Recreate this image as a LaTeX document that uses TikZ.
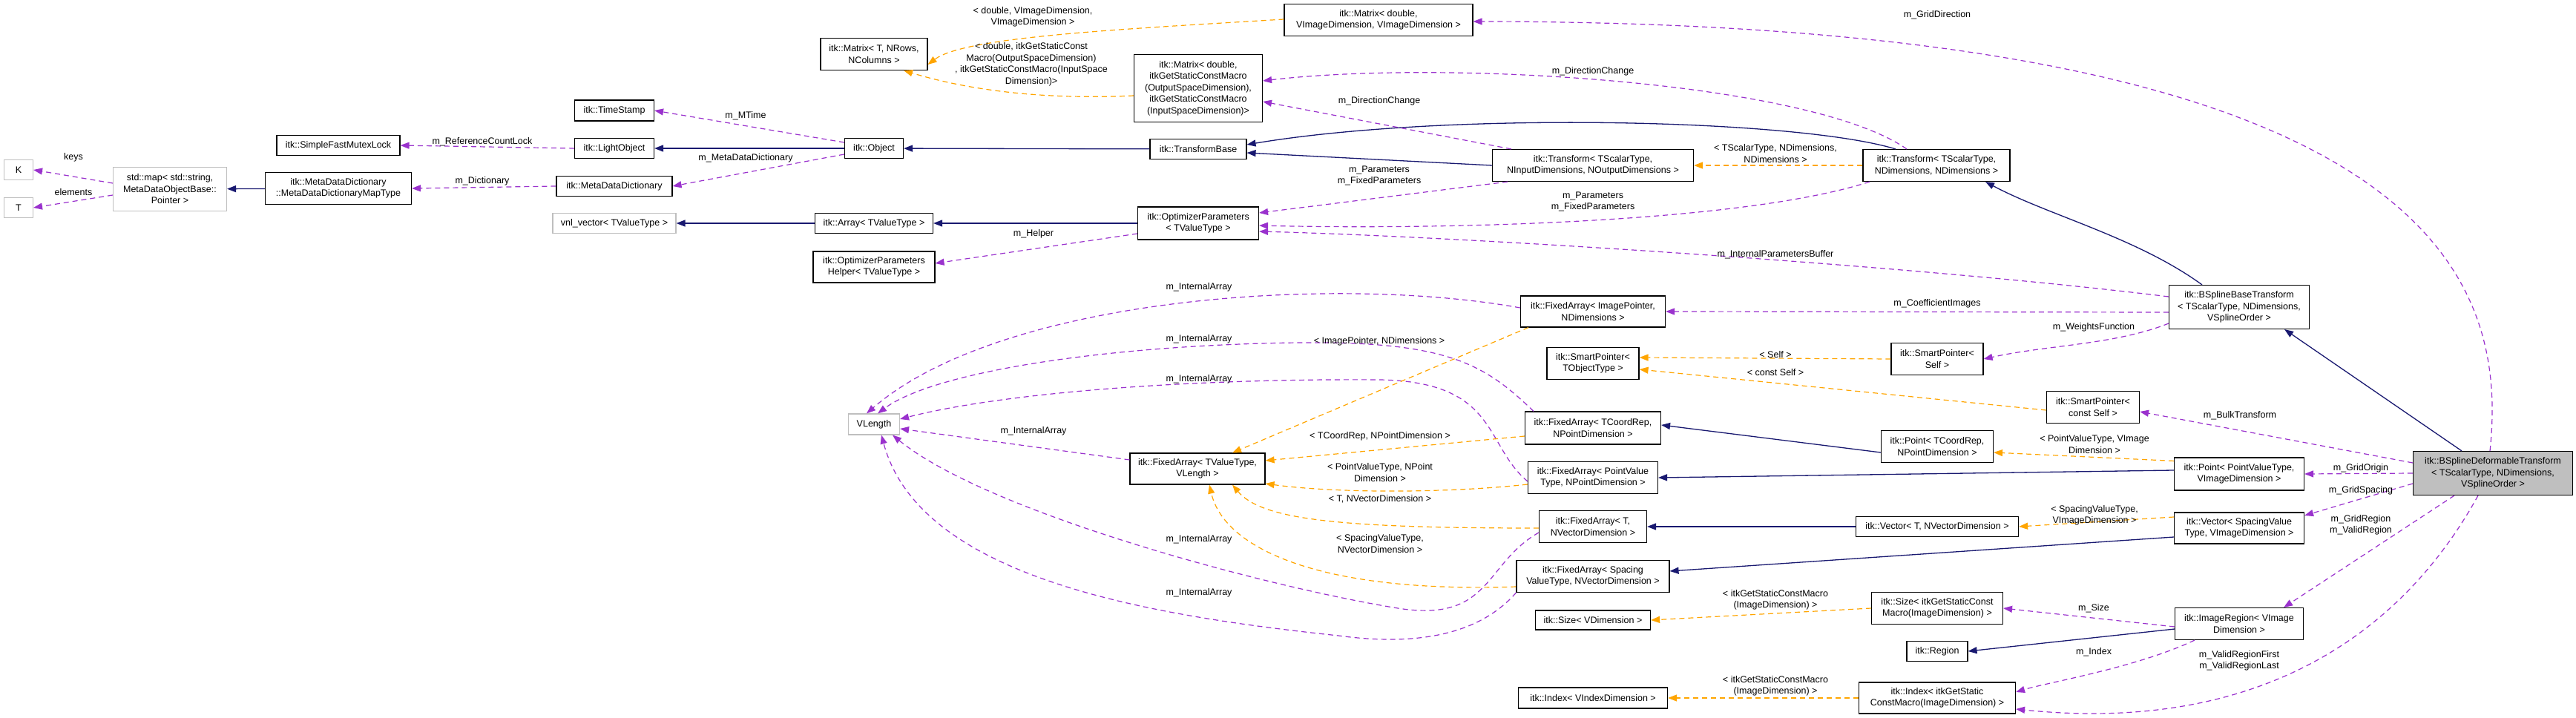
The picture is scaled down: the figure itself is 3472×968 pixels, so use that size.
\documentclass[tikz,border=0pt]{standalone}
\usepackage{fontspec}
\setmainfont{Liberation Sans}
\usetikzlibrary{arrows.meta}
\definecolor{inhc}{HTML}{191970}
\definecolor{usec}{HTML}{9A32CD}
\definecolor{tplc}{HTML}{FFA500}
\definecolor{grayb}{HTML}{BFBFBF}
\newcommand\nd[7][]{\node[box,#1,minimum width=#5pt,minimum height=#6pt] (#2) at (#3,#4) {#7};}
\newcommand\lb[4]{\node[lbl] (#1) at (#2,#3) {#4};}
\begin{document}
\begin{tikzpicture}[x=1pt,y=-1pt,
  box/.style={draw=black,line width=1.1pt,fill=white,inner sep=0pt,align=center,font=\fontsize{12.5}{15.5}\selectfont},
  ext/.style={draw=grayb},
  cur/.style={fill=grayb},
  lbl/.style={inner sep=0pt,align=center,font=\fontsize{12.5}{15.5}\selectfont},
  inh/.style={draw=inhc,line width=1.3pt,arrows={-{Triangle[length=12pt,width=9pt,fill=inhc]}}},
  use/.style={draw=usec,line width=1.2pt,dash pattern=on 7pt off 5pt,arrows={-{Triangle[length=12pt,width=9pt,fill=usec]}}},
  tpl/.style={draw=tplc,line width=1.2pt,dash pattern=on 7pt off 5pt,arrows={-{Triangle[length=12pt,width=9pt,fill=tplc]}}}]
\useasboundingbox (0,0) rectangle (3472,968);
% nodes
\nd[ext]{K}{25}{229}{39}{27}{K}
\nd[ext]{T}{25}{280}{39}{27}{T}
\nd[ext]{smap}{229}{255}{153}{59}{std::map< std::string,\\ MetaDataObjectBase::\\ Pointer >}
\nd{maptype}{456}{254}{197}{43}{itk::MetaDataDictionary\\::MetaDataDictionaryMapType}
\nd{sfml}{456}{196}{166}{27}{itk::SimpleFastMutexLock}
\nd{tstamp}{828}{149}{107}{28}{itk::TimeStamp}
\nd{lobj}{828}{200}{107}{27}{itk::LightObject}
\nd{mdd}{828}{251}{156}{27}{itk::MetaDataDictionary}
\nd[ext]{vnl}{828}{301}{166}{27}{vnl\_vector< TValueType >}
\nd{matT}{1178}{73}{144}{43}{itk::Matrix< T, NRows,\\ NColumns >}
\nd{obj}{1178}{200}{79}{27}{itk::Object}
\nd{arr}{1178}{301}{159}{27}{itk::Array< TValueType >}
\nd{ophelp}{1178}{360}{164}{42}{itk::OptimizerParameters\\Helper< TValueType >}
\nd{matV}{1858}{27}{254}{43}{itk::Matrix< double,\\ VImageDimension, VImageDimension >}
\nd{matG}{1615}{119}{173}{91}{itk::Matrix< double,\\ itkGetStaticConstMacro\\(OutputSpaceDimension),\\ itkGetStaticConstMacro\\(InputSpaceDimension)>}
\nd{tbase}{1615}{201}{130}{27}{itk::TransformBase}
\nd{trIO}{2147}{223}{271}{43}{itk::Transform< TScalarType,\\ NInputDimensions, NOutputDimensions >}
\nd{trND}{2610}{223}{198}{43}{itk::Transform< TScalarType,\\ NDimensions, NDimensions >}
\nd{opt}{1615}{301}{163}{44}{itk::OptimizerParameters\\< TValueType >}
\nd{faIP}{2147}{420}{195}{42}{itk::FixedArray< ImagePointer,\\ NDimensions >}
\nd{bbase}{3018}{414}{189}{59}{itk::BSplineBaseTransform\\< TScalarType, NDimensions,\\ VSplineOrder >}
\nd{spTO}{2147}{490}{124}{43}{itk::SmartPointer<\\ TObjectType >}
\nd{spS}{2611}{484}{124}{43}{itk::SmartPointer<\\ Self >}
\nd{spCS}{2821}{549}{125}{43}{itk::SmartPointer<\\ const Self >}
\nd{faTC}{2147}{577}{183}{44}{itk::FixedArray< TCoordRep,\\ NPointDimension >}
\nd{ptTC}{2611}{602}{151}{43}{itk::Point< TCoordRep,\\ NPointDimension >}
\nd{faPV}{2147}{644}{175}{43}{itk::FixedArray< PointValue\\Type, NPointDimension >}
\nd{ptPV}{3018}{639}{175}{44}{itk::Point< PointValueType,\\ VImageDimension >}
\nd[cur]{bdef}{3360}{638}{215}{59}{itk::BSplineDeformableTransform\\< TScalarType, NDimensions,\\ VSplineOrder >}
\nd{faTN}{2147}{710}{145}{43}{itk::FixedArray< T,\\ NVectorDimension >}
\nd{vecT}{2611}{710}{219}{27}{itk::Vector< T, NVectorDimension >}
\nd{vecS}{3018}{712}{175}{42}{itk::Vector< SpacingValue\\Type, VImageDimension >}
\nd{faSV}{2147}{777}{206}{43}{itk::FixedArray< Spacing\\ValueType, NVectorDimension >}
\nd{sizeV}{2147}{836}{155}{26}{itk::Size< VDimension >}
\nd{sizeG}{2611}{820}{177}{43}{itk::Size< itkGetStaticConst\\Macro(ImageDimension) >}
\nd{ireg}{3018}{841}{173}{43}{itk::ImageRegion< VImage\\Dimension >}
\nd{reg}{2611}{878}{82}{27}{itk::Region}
\nd{idxG}{2611}{941}{211}{42}{itk::Index< itkGetStatic\\ConstMacro(ImageDimension) >}
\nd{idxV}{2147}{941}{201}{28}{itk::Index< VIndexDimension >}
\nd[ext]{vlen}{1178}{572}{69}{28}{VLength}
\nd{faTV}{1614}{632}{182}{42}{itk::FixedArray< TValueType,\\ VLength >}
% inheritance
\draw[inh] (maptype) -- (smap);
\draw[inh] (obj) -- (lobj);
\draw[inh] (tbase) -- (obj);
\draw[inh] (arr) -- (vnl);
\draw[inh] (opt) -- (arr);
\draw[inh] (trIO.west) -- ([yshift=-5pt]tbase.east);
\draw[inh] ([xshift=-55pt]trND.north) .. controls (2420,160) and (1950,150) .. ([yshift=6pt]tbase.east);
\draw[inh] ([xshift=-50pt]bbase.north) .. controls (2880,320) and (2760,290) .. ([xshift=66pt]trND.south);
\draw[inh] ([xshift=-42pt]bdef.north) -- ([xshift=-34pt]bbase.south east);
\draw[inh] ([yshift=-8pt]ptTC.west) -- ([yshift=4pt]faTC.east);
\draw[inh] ([yshift=5pt]ptPV.west) -- (faPV.east);
\draw[inh] (vecT) -- (faTN);
\draw[inh] ([yshift=-12pt]vecS.west) -- ([yshift=7pt]faSV.east);
\draw[inh] ([yshift=-7pt]ireg.west) -- (reg.east);
% usage
\draw[use] ([yshift=8pt]smap.west) -- (K.east);
\draw[use] ([yshift=-8pt]smap.west) -- (T.east);
\draw[use] (lobj.west) -- (sfml.east);
\draw[use] (mdd.west) -- (maptype.east);
\draw[use] ([yshift=8pt]obj.west) -- (tstamp.east);
\draw[use] ([yshift=-8pt]obj.west) -- (mdd.east);
\draw[use] ([yshift=-14pt]opt.west) -- ([yshift=5pt]ophelp.east);
\draw[use] ([xshift=-4pt]bdef.north) .. controls (3380,380) and (3290,30) .. ([yshift=-2pt]matV.east);
\draw[use] ([xshift=-40pt]trND.north) .. controls (2440,110) and (1950,80) .. ([yshift=10pt]matG.east);
\draw[use] ([xshift=-110pt]trIO.north) -- ([yshift=-18pt]matG.east);
\draw[use] ([xshift=-115pt]trIO.south) -- ([yshift=14pt]opt.east);
\draw[use] ([xshift=-90pt]trND.south) .. controls (2350,300) and (1950,310) .. ([yshift=-3pt]opt.east);
\draw[use] ([yshift=14pt]bbase.west) .. controls (2600,360) and (2000,320) .. ([yshift=-11pt]opt.east);
\draw[use] ([yshift=-7pt]bbase.west) -- (faIP.east);
\draw[use] ([yshift=-22pt]bbase.west) .. controls (2850,465) and (2760,465) .. (spS.east);
\draw[use] ([yshift=14pt]bdef.west) -- ([yshift=-6pt]spCS.east);
\draw[use] (bdef.west) -- (ptPV.east);
\draw[use] ([yshift=-14pt]bdef.west) -- ([yshift=17pt]vecS.east);
\draw[use] ([xshift=-52pt]bdef.south) -- ([xshift=-27pt]ireg.north east);
\draw[use] ([xshift=-20pt]bdef.south) .. controls (3240,850) and (3050,990) .. ([yshift=-15pt]idxG.east);
\draw[use] ([yshift=-4pt]ireg.west) -- (sizeG.east);
\draw[use] ([xshift=-60pt]ireg.south) .. controls (2880,900) and (2760,920) .. ([yshift=8pt]idxG.east);
% internal arrays
\draw[use] ([yshift=5pt]faIP.west) .. controls (1800,370) and (1350,400) .. ([xshift=-10pt]vlen.north);
\draw[use] ([xshift=-80pt]faTC.north) .. controls (2000,490) and (1950,460) .. (1750,462) .. controls (1500,465) and (1260,500) .. ([xshift=5pt]vlen.north);
\draw[use] ([yshift=-5pt]faPV.west) .. controls (2000,600) and (2020,515) .. (1860,512) .. controls (1600,510) and (1350,530) .. ([yshift=7pt]vlen.east);
\draw[use] ([yshift=12pt]faTV.west) -- ([yshift=-6pt]vlen.east);
\draw[use] ([yshift=-8pt]faTN.west) .. controls (2000,760) and (2010,840) .. (1884,820) .. controls (1700,790) and (1330,690) .. ([xshift=25pt]vlen.south);
\draw[use] (faSV.south west) .. controls (1990,860) and (1900,870) .. (1804,857) .. controls (1550,830) and (1240,780) .. ([xshift=10pt]vlen.south);
% template instantiation
\draw[tpl] ([yshift=1pt]matV.west) .. controls (1500,40) and (1300,50) .. ([yshift=-14pt]matT.east);
\draw[tpl] ([yshift=-10pt]matG.west) .. controls (1400,135) and (1300,120) .. ([xshift=40pt]matT.south);
\draw[tpl] (trND.west) -- (trIO.east);
\draw[tpl] ([xshift=-87pt]faIP.south) -- ([xshift=47pt]faTV.north);
\draw[tpl] ([yshift=-11pt]faTC.west) -- ([yshift=11pt]faTV.east);
\draw[tpl] ([yshift=-9pt]faPV.west) .. controls (1950,665) and (1800,665) .. ([yshift=-20pt]faTV.east);
\draw[tpl] ([yshift=-2pt]faTN.west) .. controls (1800,712) and (1700,700) .. ([xshift=47pt]faTV.south);
\draw[tpl] ([yshift=-14pt]faSV.west) .. controls (1780,800) and (1650,740) .. ([xshift=16pt]faTV.south);
\draw[tpl] (spS.west) -- ([yshift=8pt]spTO.east);
\draw[tpl] ([yshift=-4pt]spCS.west) -- ([yshift=-8pt]spTO.east);
\draw[tpl] ([yshift=-5pt]ptPV.north west) -- ([yshift=-8pt]ptTC.east);
\draw[tpl] ([yshift=15pt]vecS.west) -- (vecT.east);
\draw[tpl] (sizeG.west) -- (sizeV.east);
\draw[tpl] (idxG.west) -- (idxV.east);
% labels
\lb{l1}{99}{212}{keys}
\lb{l2}{99}{259}{elements}
\lb{l3}{650}{191}{m\_ReferenceCountLock}
\lb{l4}{650}{244}{m\_Dictionary}
\lb{l5}{1005}{156}{m\_MTime}
\lb{l6}{1005}{213}{m\_MetaDataDictionary}
\lb{l7}{1393}{315}{m\_Helper}
\lb{l8}{1392}{23}{< double, VImageDimension,\\ VImageDimension >}
\lb{l9}{1390}{87}{< double, itkGetStaticConst\\Macro(OutputSpaceDimension)\\, itkGetStaticConstMacro(InputSpace\\Dimension)>}
\lb{l10}{2611}{20}{m\_GridDirection}
\lb{l11}{2147}{96}{m\_DirectionChange}
\lb{l12}{1859}{136}{m\_DirectionChange}
\lb{l13}{2393}{207}{< TScalarType, NDimensions,\\ NDimensions >}
\lb{l14}{1859}{237}{m\_Parameters\\m\_FixedParameters}
\lb{l15}{2147}{272}{m\_Parameters\\m\_FixedParameters}
\lb{l16}{2393}{343}{m\_InternalParametersBuffer}
\lb{l17}{2611}{409}{m\_CoefficientImages}
\lb{l18}{2822}{441}{m\_WeightsFunction}
\lb{l19}{1616}{387}{m\_InternalArray}
\lb{l20}{1616}{457}{m\_InternalArray}
\lb{l21}{1859}{460}{< ImagePointer, NDimensions >}
\lb{l22}{2393}{478}{< Self >}
\lb{l23}{2393}{502}{< const Self >}
\lb{l24}{1616}{511}{m\_InternalArray}
\lb{l25}{1393}{581}{m\_InternalArray}
\lb{l26}{1860}{588}{< TCoordRep, NPointDimension >}
\lb{l27}{1860}{637}{< PointValueType, NPoint\\Dimension >}
\lb{l28}{1860}{673}{< T, NVectorDimension >}
\lb{l29}{1860}{733}{< SpacingValueType,\\NVectorDimension >}
\lb{l30}{1616}{727}{m\_InternalArray}
\lb{l31}{1616}{799}{m\_InternalArray}
\lb{l32}{3019}{560}{m\_BulkTransform}
\lb{l33}{2823}{599}{< PointValueType, VImage\\Dimension >}
\lb{l34}{3182}{631}{m\_GridOrigin}
\lb{l35}{3182}{661}{m\_GridSpacing}
\lb{l36}{2823}{695}{< SpacingValueType,\\VImageDimension >}
\lb{l37}{3182}{708}{m\_GridRegion\\m\_ValidRegion}
\lb{l38}{2393}{809}{< itkGetStaticConstMacro\\(ImageDimension) >}
\lb{l39}{2822}{820}{m\_Size}
\lb{l40}{2822}{879}{m\_Index}
\lb{l41}{3018}{891}{m\_ValidRegionFirst\\m\_ValidRegionLast}
\lb{l42}{2393}{925}{< itkGetStaticConstMacro\\(ImageDimension) >}
\end{tikzpicture}
\end{document}
